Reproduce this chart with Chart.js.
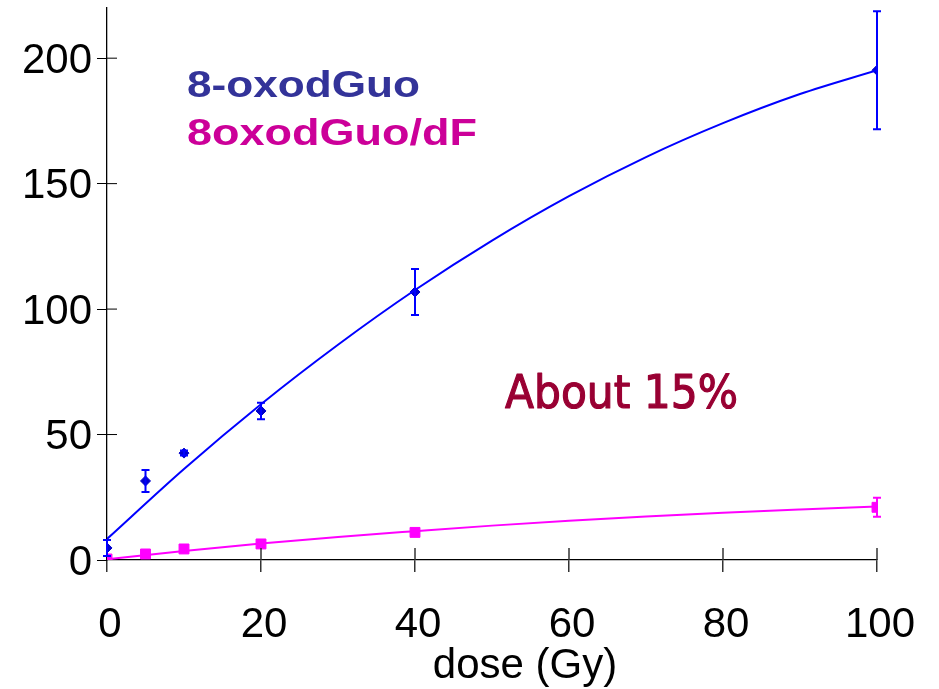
<!DOCTYPE html>
<html><head><meta charset="utf-8">
<script src="https://cdn.jsdelivr.net/npm/chart.js@4"></script>
<style>html,body{margin:0;padding:0;background:#fff;overflow:hidden}canvas{display:block}</style>
</head><body>
<canvas id="c" width="939" height="689"></canvas>
<script>
// ---- data ----
const doses     = [0, 5, 10, 20, 40, 100];
const oxoMean   = [4.8, 31.5, 42.6, 59.4, 106.8, 195.2];
const oxoErr    = [3.2, 4.4, 1.0, 3.3, 9.2, 23.5];
const ratioMean = [0.4, 2.4, 4.4, 6.4, 11.0, 21.0];
const ratioErr  = [0, 0, 0, 0, 0, 3.8];
const fitDoses  = [0, 10, 20, 30, 40, 50, 60, 70, 80, 90, 100];
const oxoFit    = [8.4, 36.3, 62.1, 85.8, 107.6, 127.3, 145.0, 160.6, 174.1, 185.7, 195.2];
const ratioFit  = [0.3, 3.6, 6.6, 9.2, 11.5, 13.7, 15.6, 17.3, 18.8, 20.1, 21.3];
const xTicks    = [0, 20, 40, 60, 80, 100];
const yTicks    = [0, 50, 100, 150, 200];
const seriesNames = ['8-oxodGuo', '8oxodGuo/dF'];
const xTitle = 'dose (Gy)';
const note = 'About 15%';

const pts = (xs, ys) => xs.map((x, i) => ({x, y: ys[i]}));

const errorBars = {
  id: 'errorBars',
  afterDatasetsDraw(chart) {
    const ctx = chart.ctx, xs = chart.scales.x, ys = chart.scales.y;
    const draw = (means, errs, color) => {
      ctx.save();
      ctx.strokeStyle = color; ctx.lineWidth = 2;
      doses.forEach((d, i) => {
        if (!errs[i]) return;
        const px = xs.getPixelForValue(d);
        const t = ys.getPixelForValue(means[i] + errs[i]);
        const b = ys.getPixelForValue(means[i] - errs[i]);
        ctx.beginPath();
        ctx.moveTo(px, t); ctx.lineTo(px, b);
        ctx.moveTo(px - 4, t); ctx.lineTo(px + 4, t);
        ctx.moveTo(px - 4, b); ctx.lineTo(px + 4, b);
        ctx.stroke();
      });
      ctx.restore();
    };
    draw(oxoMean, oxoErr, '#0000FF');
    draw(ratioMean, ratioErr, '#FF00FF');
  }
};

const decor = {
  id: 'decor',
  afterDraw(chart) {
    const ctx = chart.ctx, xs = chart.scales.x, ys = chart.scales.y;
    const x0 = xs.getPixelForValue(0), y0 = ys.getPixelForValue(0);
    ctx.save();
    ctx.strokeStyle = '#333'; ctx.lineWidth = 1.5;
    xTicks.forEach(v => {
      if (v === 0) return;
      const px = xs.getPixelForValue(v);
      ctx.beginPath(); ctx.moveTo(px, y0); ctx.lineTo(px, y0 - 12); ctx.stroke();
    });
    ctx.strokeStyle = '#000'; ctx.lineWidth = 1;
    yTicks.forEach(v => {
      if (v === 0) return;
      const py = ys.getPixelForValue(v);
      ctx.beginPath(); ctx.moveTo(x0, py); ctx.lineTo(x0 + 10, py); ctx.stroke();
    });
    const fitText = (txt, font, color, x, y, w, stroke) => {
      ctx.font = font; ctx.fillStyle = color; ctx.textBaseline = 'alphabetic'; ctx.textAlign = 'left';
      const m = ctx.measureText(txt).width;
      ctx.save(); ctx.translate(x, y); ctx.scale(w / m, 1); ctx.fillText(txt, 0, 0);
      if (stroke) { ctx.strokeStyle = color; ctx.lineWidth = stroke; ctx.lineJoin = 'round'; ctx.strokeText(txt, 0, 0); }
      ctx.restore();
    };
    fitText(seriesNames[0], "bold 36px 'Liberation Sans'", '#333399', 187, 97, 233, 0);
    fitText(seriesNames[1], "bold 36px 'Liberation Sans'", '#CC0099', 187, 145, 290, 0);
    fitText(note, "46px 'DejaVu Sans'", '#990033', 505, 408, 233, 1.2);
    ctx.font = "42px 'Liberation Sans'"; ctx.fillStyle = '#000';
    ctx.textAlign = 'center'; ctx.textBaseline = 'alphabetic';
    ctx.fillText(xTitle, 525, 678);
    ctx.restore();
  }
};

new Chart(document.getElementById('c'), {
  type: 'scatter',
  data: {
    datasets: [
      { label: seriesNames[0] + ' fit', data: pts(fitDoses, oxoFit), showLine: true,
        borderColor: '#0000FF', borderWidth: 2, pointRadius: 0, cubicInterpolationMode: 'monotone' },
      { label: seriesNames[1] + ' fit', data: pts(fitDoses, ratioFit), showLine: true,
        borderColor: '#FF00FF', borderWidth: 2, pointRadius: 0, cubicInterpolationMode: 'monotone' },
      { label: seriesNames[0], data: pts(doses, oxoMean), showLine: false,
        pointStyle: 'rectRot', pointRadius: 5, backgroundColor: '#0000CC', borderColor: '#0000CC', borderWidth: 1 },
      { label: seriesNames[1], data: pts(doses, ratioMean), showLine: false,
        pointStyle: 'rect', pointRadius: 7, backgroundColor: '#FF00FF', borderColor: '#FF00FF', borderWidth: 1 }
    ]
  },
  options: {
    responsive: false, animation: false, devicePixelRatio: 1,
    layout: { padding: { top: 8, right: 62, left: 0, bottom: 0 } },
    plugins: { legend: { display: false }, tooltip: { enabled: false } },
    scales: {
      x: {
        type: 'linear', min: 0, max: 100,
        afterBuildTicks: s => { s.ticks = xTicks.map(v => ({value: v})); },
        afterFit: s => { s.height = 129; s.paddingLeft = 0; s.paddingRight = 0; },
        grid: { display: true, drawOnChartArea: false, drawTicks: true, tickLength: 12, color: '#333', lineWidth: 1.5 },
        border: { display: true, color: '#000', width: 1.3 },
        ticks: { font: { family: 'Liberation Sans', size: 42 }, color: '#000', padding: 28, labelOffset: 3, maxRotation: 0 }
      },
      y: {
        type: 'linear', min: 0, max: 220,
        afterBuildTicks: s => { s.ticks = yTicks.map(v => ({value: v})); },
        afterFit: s => { s.width = 107; s.paddingTop = 0; s.paddingBottom = 0; },
        grid: { display: true, drawOnChartArea: false, drawTicks: true, tickLength: 10, color: '#000', lineWidth: 1 },
        border: { display: true, color: '#000', width: 1.3 },
        ticks: { font: { family: 'Liberation Sans', size: 42 }, color: '#000', padding: 5, labelOffset: 3 }
      }
    }
  },
  plugins: [errorBars, decor]
});
</script>
</body></html>
